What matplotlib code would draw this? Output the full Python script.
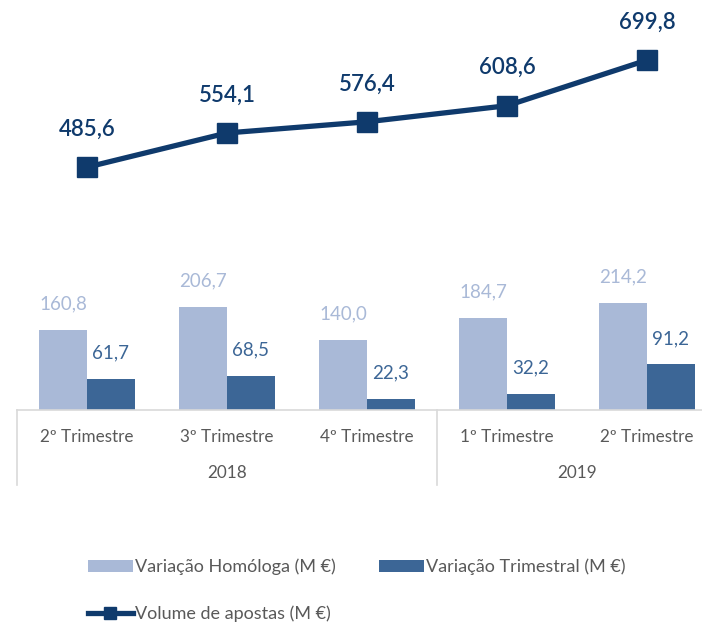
import matplotlib.pyplot as plt
import matplotlib.transforms as mtransforms
from matplotlib.patches import Patch
from matplotlib.lines import Line2D
import numpy as np

plt.rcParams["font.family"] = ["Lato", "DejaVu Sans"]

quarters = ["2º Trimestre", "3º Trimestre", "4º Trimestre", "1º Trimestre", "2º Trimestre"]
years = ["2018", "2019"]
year_groups = [(0, 2), (3, 4)]
homologa = [160.8, 206.7, 140.0, 184.7, 214.2]
trimestral = [61.7, 68.5, 22.3, 32.2, 91.2]
volume = [485.6, 554.1, 576.4, 608.6, 699.8]

light = "#A9B9D7"
dark = "#3C6696"
navy = "#0F3A6C"
grey_txt = "#595959"
grey_line = "#D9D9D9"

def fmt(v):
    return f"{v:.1f}".replace(".", ",")

fig = plt.figure(figsize=(7.02, 6.26), dpi=100)
W, H = 702, 626
ax = fig.add_axes([17 / W, (H - 410) / H, 700 / W, 410 / H])
ax.set_xlim(-0.5, 4.5)
ax.set_ylim(0, 820)
ax.axis("off")

x = np.arange(len(quarters))
bw = 0.34
ax.bar(x - bw / 2, homologa, bw, color=light)
ax.bar(x + bw / 2, trimestral, bw, color=dark)
for xi, v in zip(x, homologa):
    ax.text(xi - bw / 2, v + 52, fmt(v), ha="center", va="center",
            fontsize=13.5, color=light)
for xi, v in zip(x, trimestral):
    ax.text(xi + bw / 2, v + 52, fmt(v), ha="center", va="center",
            fontsize=13.5, color=dark)

ax.plot(x, volume, color=navy, lw=3.8, marker="s", markersize=15, zorder=5)
for xi, v in zip(x, volume):
    ax.text(xi, v + 76, fmt(v), ha="center", va="center", fontsize=16,
            color=navy, fontweight="semibold")

# axis line and category labels
ax.plot([-0.5, 4.5], [0, 0], color=grey_line, lw=1.2, clip_on=False)
trans = mtransforms.blended_transform_factory(ax.transData, ax.transAxes)
for xi, q in zip(x, quarters):
    ax.text(xi, -27 / 410, q, transform=trans, ha="center", va="center",
            fontsize=12.3, color=grey_txt)
for (a, b), yr in zip(year_groups, years):
    ax.text((a + b) / 2, -63 / 410, yr, transform=trans, ha="center", va="center",
            fontsize=12.3, color=grey_txt)
for sx in [-0.5, 2.5, 4.5]:
    ax.plot([sx, sx], [0, -75 / 410], transform=trans, color=grey_line, lw=1.2,
            clip_on=False)

handles = [
    Patch(facecolor=light, label="Variação Homóloga (M €)"),
    Line2D([], [], color=navy, lw=3.8, marker="s", markersize=9,
           label="Volume de apostas (M €)"),
    Patch(facecolor=dark, label="Variação Trimestral (M €)"),
]
fig.legend(handles=handles, ncol=2, loc="upper left",
           bbox_to_anchor=(75 / W, (H - 546) / H), frameon=False,
           fontsize=13, labelcolor=grey_txt, handlelength=2.5, handleheight=0.7,
           handletextpad=0.12, labelspacing=1.7, columnspacing=2.4,
           borderaxespad=0.3)

fig.savefig("out.png", dpi=100)
